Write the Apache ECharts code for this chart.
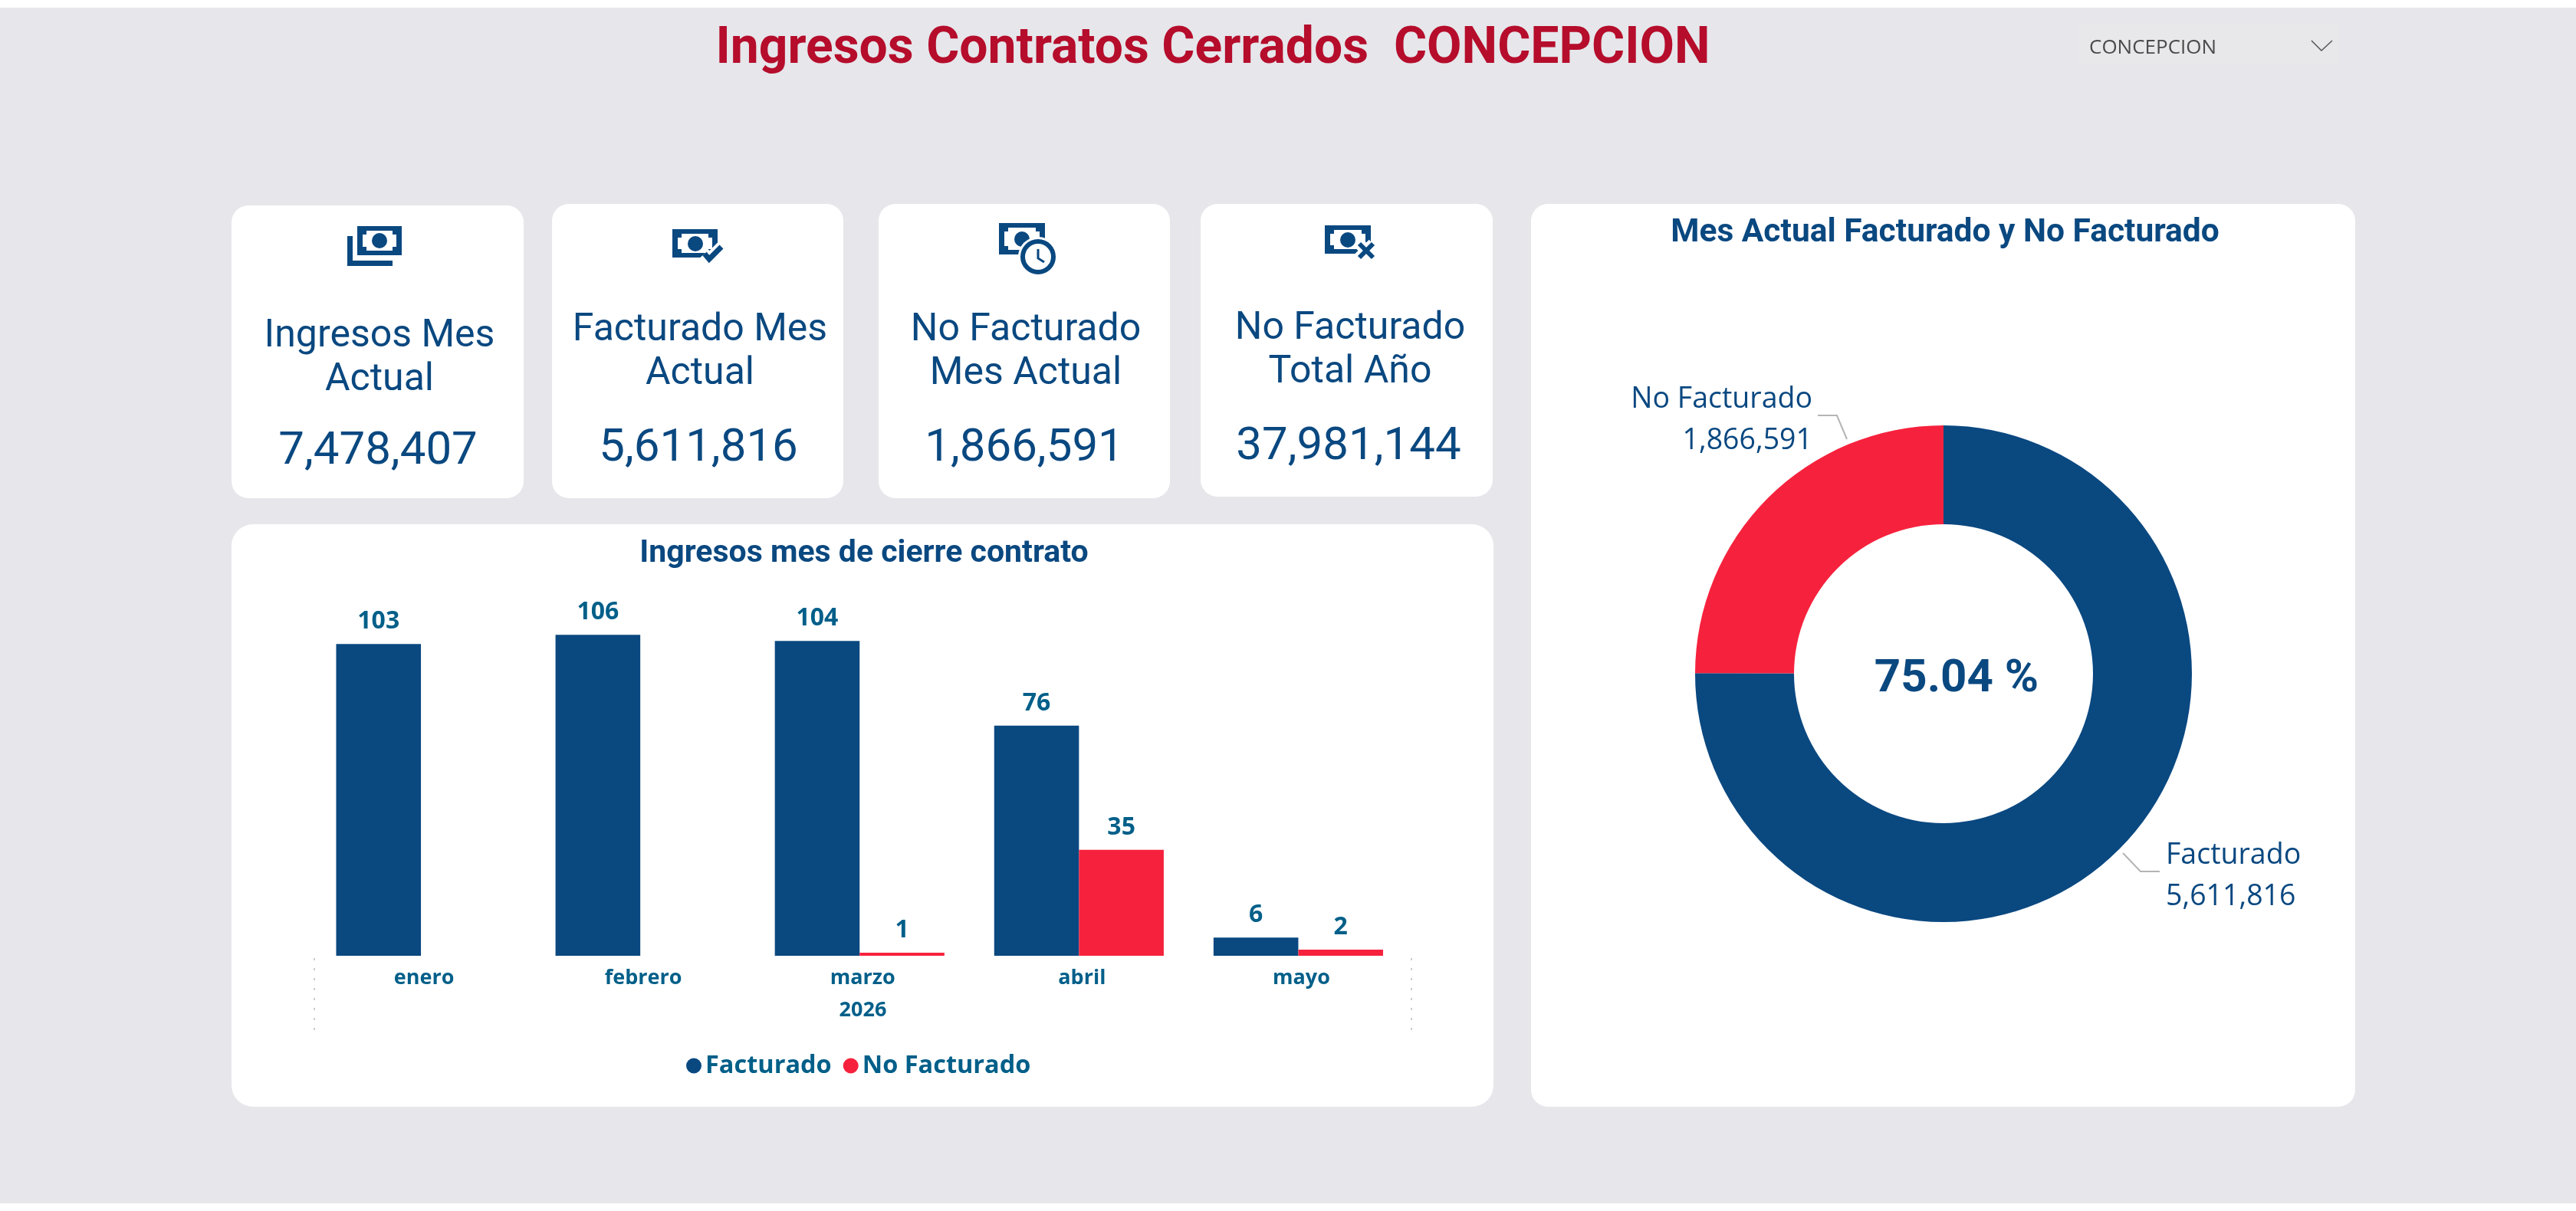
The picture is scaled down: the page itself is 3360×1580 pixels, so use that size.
<!DOCTYPE html>
<html lang="es">
<head>
<meta charset="utf-8">
<title>Ingresos Contratos Cerrados CONCEPCION</title>
<style>
  html, body { margin: 0; padding: 0; background: #fff; }
  #main { width: 3360px; height: 1580px; }
</style>
<script src="https://cdn.jsdelivr.net/npm/echarts@6/dist/echarts.min.js"></script>
</head>
<body>
<div id="main"></div>
<script>
// Dashboard values
const reportTitle = 'Ingresos Contratos Cerrados  CONCEPCION';
const selectedCity = 'CONCEPCION';
const months = ['enero', 'febrero', 'marzo', 'abril', 'mayo'];
const yearLabels = ['2026'];
const facturado = [103, 106, 104, 76, 6];
const noFacturado = [null, null, 1, 35, 2];
const pieNames = ['Facturado', 'No Facturado'];
const pieValues = [5611816, 1866591];
const cardTitles = [
  ['Ingresos Mes', 'Actual'],
  ['Facturado Mes', 'Actual'],
  ['No Facturado', 'Mes Actual'],
  ['No Facturado', 'Total Año']
];
const cardValues = [7478407, 5611816, 1866591, 37981144];

// Palette and fonts
const NAVY = '#0A4880';
const RED = '#F6223D';
const TEAL = '#005F89';
const DIN = 'Roboto, sans-serif';
const UI = '"Open Sans", sans-serif';
const fmt = v => v.toLocaleString('en-US');

// Card boxes and text anchors
const cardLayout = [
  { x: 302, y: 268, w: 381, h: 382, cx: 495, vx: 493, l1: 439, l2: 496, v: 590 },
  { x: 720, y: 266, w: 380, h: 384, cx: 913, vx: 911, l1: 431, l2: 488, v: 586 },
  { x: 1146, y: 266, w: 380, h: 384, cx: 1338, vx: 1336, l1: 431, l2: 488, v: 586 },
  { x: 1566, y: 266, w: 381, h: 382, cx: 1761, vx: 1759, l1: 429, l2: 486, v: 584 }
];

function box(x, y, w, h, r, fill) {
  return { type: 'rect', z: 0, silent: true, shape: { x, y, width: w, height: h, r }, style: { fill } };
}
function text(str, x, y, font, size, weight, fill, extra) {
  return {
    type: 'text', z: 5, silent: true, x, y,
    style: Object.assign({ text: str, fontFamily: font, fontSize: size, fontWeight: weight, fill, align: 'center', verticalAlign: 'middle' }, extra || {})
  };
}

// A banknote: solid frame, notched white face and a round seal
function note(x, y, w, h, cx, cy) {
  const p = 7, n = 5;
  const l = x + p, r = x + w - p, t = y + p - 1, b = y + h - p + 1;
  return [
    box(x, y, w, h, 0, NAVY),
    { type: 'polygon', z: 1, silent: true, style: { fill: '#fff' }, shape: { points: [
      [l + n, t], [r - n, t], [r - n, t + n], [r, t + n], [r, b - n], [r - n, b - n], [r - n, b],
      [l + n, b], [l + n, b - n], [l, b - n], [l, t + n], [l + n, t + n]
    ] } },
    { type: 'circle', z: 2, silent: true, shape: { cx, cy, r: 10 }, style: { fill: NAVY } }
  ];
}
function stroke(points, width, color, z) {
  return { type: 'polyline', z, silent: true, shape: { points }, style: { stroke: color, lineWidth: width, fill: null } };
}

const icons = [
  // stacked notes
  box(453, 308, 7, 39, 0, NAVY), box(453, 340, 59, 7, 0, NAVY),
  ...note(466, 295, 58, 38, 495, 314),
  // note with a tick
  ...note(877, 299, 59, 37, 907, 318),
  stroke([[919, 331], [925, 338], [941, 322]], 15, '#fff', 3),
  stroke([[919, 331], [925, 338], [941, 322]], 7, NAVY, 4),
  // note with a clock
  ...note(1303, 291, 60, 41, 1333, 312),
  { type: 'circle', z: 3, silent: true, shape: { cx: 1354, cy: 335, r: 26 }, style: { fill: '#fff' } },
  { type: 'circle', z: 4, silent: true, shape: { cx: 1354, cy: 335, r: 20 }, style: { fill: '#fff', stroke: NAVY, lineWidth: 6 } },
  stroke([[1354, 325], [1354, 337], [1362, 342]], 3, NAVY, 5),
  // note with a cross
  ...note(1728, 294, 60, 37, 1758, 313),
  stroke([[1773, 318], [1791, 336]], 15, '#fff', 3),
  stroke([[1791, 318], [1773, 336]], 15, '#fff', 3),
  stroke([[1773, 318], [1791, 336]], 6, NAVY, 4),
  stroke([[1791, 318], [1773, 336]], 6, NAVY, 4)
];

const cardGraphics = cardLayout.flatMap((c, i) => [
  box(c.x, c.y, c.w, c.h, 22, '#fff'),
  text(cardTitles[i][0], c.cx, c.l1, DIN, 50, 400, NAVY),
  text(cardTitles[i][1], c.cx, c.l2, DIN, 50, 400, NAVY),
  text(fmt(cardValues[i]), c.vx, c.v, DIN, 60, 400, NAVY)
]);

const shareText = (pieValues[0] / (pieValues[0] + pieValues[1]) * 100).toFixed(2) + ' %';

// Leader lines and text anchors for the doughnut callouts
const pieCallouts = [
  { x: 2825, y: 1143, align: 'left', verticalAlign: 'middle',
    labelLinePoints: [[2769, 1113], [2792, 1137], [2817, 1137]] },
  { x: 2364, y: 548, align: 'right', verticalAlign: 'middle',
    labelLinePoints: [[2409, 573], [2396, 542], [2371, 542]] }
];

const option = {
  animation: false,
  backgroundColor: '#fff',
  graphic: { elements: [
    box(0, 10, 3360, 1560, 0, '#E6E6EB'),
    text(reportTitle, 1582, 65, DIN, 66, 700, '#B50D2B', { whiteSpace: 'pre' }),
    box(2712, 30, 339, 55, 0, '#E8E8EB'),
    text(selectedCity, 2725, 63, UI, 26, 400, '#4A4A4A', { align: 'left' }),
    stroke([[3015, 53], [3028, 66], [3042, 53]], 1.5, '#555', 3),
    ...cardGraphics,
    ...icons,
    box(302, 684, 1646, 760, 28, '#fff'),
    box(1997, 266, 1075, 1178, 22, '#fff'),
    text('Ingresos mes de cierre contrato', 1127, 723, DIN, 41, 700, NAVY),
    text('Mes Actual Facturado y No Facturado', 2537, 304, DIN, 42.5, 700, NAVY),
    text(shareText, 2552, 887, DIN, 60, 700, NAVY)
  ] },
  legend: {
    left: 890, top: 1369,
    icon: 'circle', itemWidth: 20, itemHeight: 20, itemGap: 15,
    selectedMode: false,
    data: ['Facturado', 'No Facturado'],
    textStyle: { fontFamily: UI, fontSize: 32.5, fontWeight: 700, color: TEAL, padding: [0, 0, 0, 0] }
  },
  grid: [
    { left: 406, width: 1430.5, top: 812.5, height: 434.5 },
    { left: 410, width: 1431, top: 1248, height: 2 }
  ],
  xAxis: [
    {
      type: 'category', gridIndex: 0, data: months,
      axisLine: { show: false }, axisTick: { show: false },
      axisLabel: { margin: 16, padding: [0, 0, 0, 8], fontFamily: UI, fontSize: 27, fontWeight: 700, color: TEAL }
    },
    {
      type: 'category', gridIndex: 1, data: yearLabels,
      axisLine: { show: false },
      axisTick: { show: true, length: 97, lineStyle: { color: '#BDBDBD', type: [3, 10], width: 1.5 } },
      axisLabel: { margin: 55, fontFamily: UI, fontSize: 27, fontWeight: 700, color: TEAL }
    }
  ],
  yAxis: [
    { type: 'value', gridIndex: 0, min: 0, max: 110, show: false },
    { type: 'value', gridIndex: 1, show: false }
  ],
  series: [
    {
      name: 'Facturado', type: 'bar', data: facturado,
      barGap: 0, barCategoryGap: '22.7%',
      itemStyle: { color: NAVY },
      label: { show: true, position: 'top', distance: 13, fontFamily: UI, fontSize: 32, fontWeight: 700, color: TEAL }
    },
    {
      name: 'No Facturado', type: 'bar', data: noFacturado,
      itemStyle: { color: RED },
      label: { show: true, position: 'top', distance: 13, fontFamily: UI, fontSize: 32, fontWeight: 700, color: TEAL }
    },
    {
      type: 'pie',
      center: [2535, 879], radius: [195, 324], startAngle: 90,
      data: pieNames.map((name, i) => ({ name, value: pieValues[i], itemStyle: { color: [NAVY, RED][i] } })),
      label: {
        show: true, position: 'outside',
        formatter: p => p.name + '\n' + fmt(p.value),
        fontFamily: UI, fontSize: 37.5, lineHeight: 54, color: NAVY
      },
      labelLine: { show: true, lineStyle: { color: '#B4B4B4', width: 2 } },
      labelLayout: p => pieCallouts[p.dataIndex],
      emphasis: { disabled: true }
    }
  ]
};

const chart = echarts.init(document.getElementById('main'), null, { renderer: 'canvas' });
chart.setOption(option);
</script>
</body>
</html>
